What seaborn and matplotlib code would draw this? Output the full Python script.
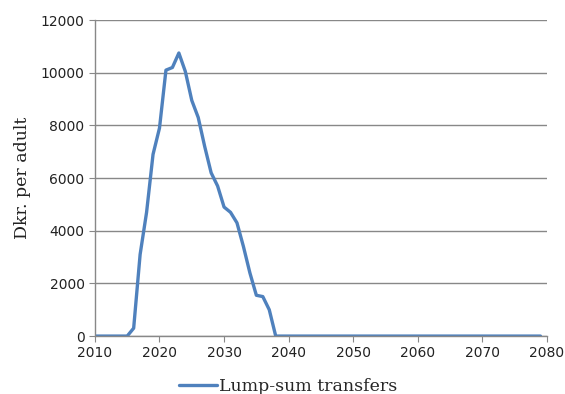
import numpy as np
import pandas as pd
import matplotlib
matplotlib.use("Agg")
import matplotlib.pyplot as plt
import seaborn as sns

# annual lump-sum transfers, Dkr. per adult
years = list(range(2010, 2080))
transfers = ([0, 0, 0, 0, 0, 0, 300, 3100, 4700, 6900,
              7900, 10100, 10200, 10750, 10050, 8950, 8300, 7200, 6200, 5700,
              4900, 4700, 4300, 3400, 2400, 1550, 1500, 1000, 0]
             + [0] * (2080 - 2039))

series_name = "Lump-sum transfers"
x_ticks = list(range(2010, 2081, 10))
y_ticks = list(range(0, 12001, 2000))

df = pd.DataFrame({"Year": years, "Value": transfers, "Series": series_name})

sns.set_style("white")
plt.rcParams['font.family'] = ['DejaVu Sans']

fig = plt.figure(figsize=(5.65, 3.94), dpi=100)
ax = fig.add_axes([0.168, 0.147, 0.8, 0.802])

sns.lineplot(data=df, x="Year", y="Value", hue="Series", palette=["#4F81BD"],
             linewidth=2.4, ax=ax, legend=False, solid_joinstyle='round',
             solid_capstyle='round')

ax.set_xlim(2010, 2080)
ax.set_ylim(0, 12000)
ax.set_xticks(x_ticks)
ax.set_yticks(y_ticks)
ax.yaxis.grid(True, color="#888888", linewidth=1)
ax.set_axisbelow(True)

for side in ['top', 'right']:
    ax.spines[side].set_visible(False)
for side in ['left', 'bottom']:
    ax.spines[side].set_color("#888888")
    ax.spines[side].set_linewidth(1)

ax.tick_params(axis='both', which='major', direction='out', length=4,
               color="#888888", labelsize=10, labelcolor="#222222",
               bottom=True, left=True)
ax.set_xlabel("")
ax.set_ylabel("Dkr. per adult", family="DejaVu Serif", fontsize=12.5,
              color="#222222", labelpad=7)

handle, = ax.plot([], [], color="#4F81BD", linewidth=2.4)
fig.legend([handle], [series_name], loc="lower center",
           bbox_to_anchor=(0.51, -0.042), frameon=False,
           prop={'family': 'DejaVu Serif', 'size': 12.5},
           handlelength=2.2, handletextpad=0.1)

fig.savefig("out.png", dpi=100, facecolor="white")
